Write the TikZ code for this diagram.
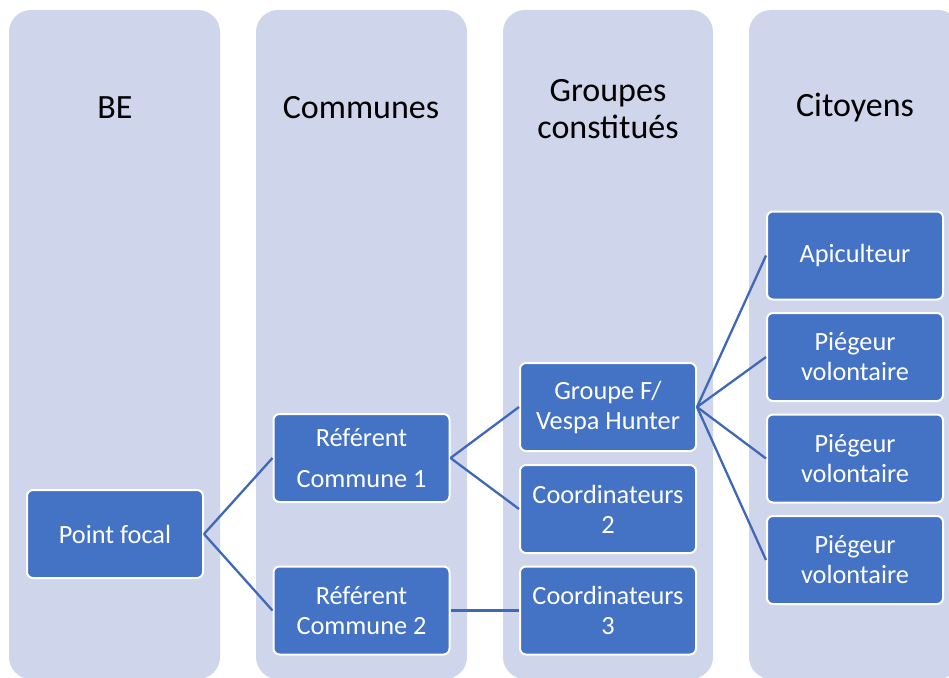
\documentclass[tikz,border=0pt]{standalone}
\usepackage{fontspec}
\setmainfont{Carlito}
\definecolor{colbg}{HTML}{CFD5EA}
\definecolor{boxbl}{HTML}{4472C4}
\definecolor{linebl}{HTML}{4068B8}
\begin{document}
\begin{tikzpicture}[x=1pt,y=-1pt,
 colbox/.style={fill=colbg, rounded corners=22pt},
 hdr/.style={font=\fontsize{34}{37}\selectfont, align=center, text=black},
 item/.style={fill=boxbl, draw=white, line width=2pt, rounded corners=6pt, minimum width=176pt, minimum height=88pt, text=white, align=center, font=\fontsize{26.3}{30}\selectfont, inner sep=0pt},
 link/.style={draw=linebl, line width=2.3pt}]
\useasboundingbox (0,0) rectangle (949,677);
\begin{scope}
\clip (0,0) rectangle (949,677);
\fill[colbox] (9,10) rectangle (220,679);
\fill[colbox] (256,10) rectangle (467,679);
\fill[colbox] (503,10) rectangle (713,679);
\fill[colbox] (749,10) rectangle (960,679);
\end{scope}
\node[hdr] (h1) at (115,108) {BE};
\node[hdr] (h2) at (361,108) {Communes};
\node[hdr] (h3) at (608,109) {Groupes\\constitués};
\node[hdr] (h4) at (855,108) {Citoyens};

\node[item] (pf) at (115,534) {Point focal};
\node[item] (r1) at (361.5,458) {Référent\\[11pt]Commune 1};
\node[item] (r2) at (361.5,610.5) {Référent\\Commune 2};
\node[item] (gf) at (608,407) {Groupe F/\\Vespa Hunter};
\node[item] (c2) at (608,509) {Coordinateurs\\2};
\node[item] (c3) at (608,610.5) {Coordinateurs\\3};
\node[item] (ap) at (855,255.5) {Apiculteur};
\node[item] (p1) at (855,357) {Piégeur\\volontaire};
\node[item] (p2) at (855,458.5) {Piégeur\\volontaire};
\node[item] (p3) at (855,560) {Piégeur\\volontaire};

\draw[link] (pf.east) -- (r1.west);
\draw[link] (pf.east) -- (r2.west);
\draw[link] (r1.east) -- (gf.west);
\draw[link] (r1.east) -- (c2.west);
\draw[link] (r2.east) -- (c3.west);
\draw[link] (gf.east) -- (ap.west);
\draw[link] (gf.east) -- (p1.west);
\draw[link] (gf.east) -- (p2.west);
\draw[link] (gf.east) -- (p3.west);
\end{tikzpicture}
\end{document}
